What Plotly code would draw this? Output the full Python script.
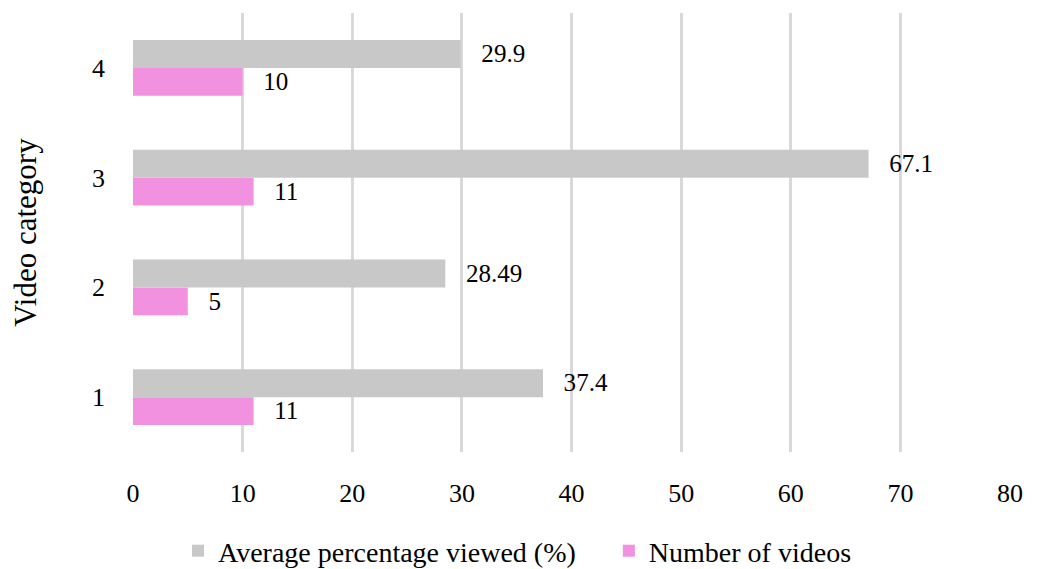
import plotly.graph_objects as go

categories = ["1", "2", "3", "4"]
avg_pct = [37.4, 28.49, 67.1, 29.9]
avg_labels = ["37.4", "28.49", "67.1", "29.9"]
num_videos = [11, 5, 11, 10]
num_labels = ["11", "5", "11", "10"]
x_ticks = [0, 10, 20, 30, 40, 50, 60, 70, 80]

FONT = "Liberation Serif"
FS = 26
NBSP = "\u00a0"

fig = go.Figure()
fig.add_trace(go.Bar(
    y=categories, x=num_videos, orientation="h", name="Number of videos",
    marker=dict(color="#F291E0", line=dict(width=0)),
    text=num_labels, texttemplate="  \u2009%{text}", textposition="outside",
    textfont=dict(family=FONT, size=FS, color="#000000"), cliponaxis=False,
))
fig.add_trace(go.Bar(
    y=categories, x=avg_pct, orientation="h",
    name="Average percentage viewed (%)" + NBSP * 4,
    marker=dict(color="#C8C8C8", line=dict(width=0)),
    text=avg_labels, texttemplate="  \u2009%{text}", textposition="outside",
    textfont=dict(family=FONT, size=FS, color="#000000"), cliponaxis=False,
))

fig.update_layout(
    width=1039, height=569,
    margin=dict(l=125, r=37, t=5, b=125, autoexpand=False),
    plot_bgcolor="white", paper_bgcolor="white",
    barmode="group", bargap=0.49, bargroupgap=0,
    font=dict(family=FONT, size=FS, color="#000000"),
    showlegend=True,
    legend=dict(orientation="h", xref="container", yref="container",
                x=0.4904, xanchor="center", y=0.0457, yanchor="middle",
                traceorder="reversed", font=dict(family=FONT, size=28),
                itemwidth=30),
    xaxis=dict(range=[0, 80], tickvals=x_ticks, showgrid=True, gridcolor="#D9D9D9",
               gridwidth=2.5, zeroline=False, showline=False, ticks="",
               automargin=False,
               ticklabelstandoff=23, tickfont=dict(family=FONT, size=FS)),
    yaxis=dict(categoryorder="array", categoryarray=categories, showgrid=False,
               zeroline=False, showline=False, ticks="", ticklabelstandoff=27,
               automargin=False,
               tickfont=dict(family=FONT, size=FS),
               title=dict(text="Video category", font=dict(family=FONT, size=31), standoff=54)),
)

fig.write_html("out.html")
